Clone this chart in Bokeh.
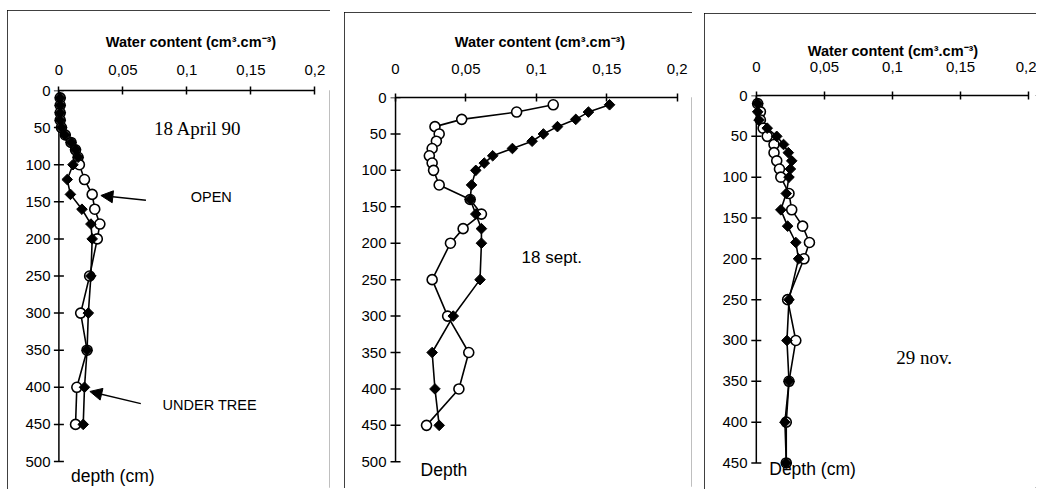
import math
from bokeh.plotting import figure
from bokeh.layouts import row, column
from bokeh.models import (Range1d, FixedTicker, Label, Arrow, NormalHead, Spacer)
from bokeh.embed import file_html
from bokeh.resources import INLINE

# ---------------- data ----------------
depths = [10, 20, 30, 40, 50, 60, 70, 80, 90, 100, 120, 140, 160, 180, 200, 250, 300, 350, 400, 450]

# 18 April 90
april_filled = [0.001, 0.001, 0.001, 0.001, 0.002, 0.005, 0.0095, 0.013, 0.015, 0.011,
                0.0065, 0.009, 0.018, 0.025, 0.026, 0.025, 0.023, 0.022, 0.020, 0.019]
april_open = [0.001, 0.001, 0.001, 0.001, 0.002, 0.005, 0.0095, 0.013, 0.015, 0.016,
              0.020, 0.026, 0.028, 0.032, 0.030, 0.024, 0.017, 0.022, 0.014, 0.013]

# 18 sept.
sept_filled = [0.152, 0.137, 0.128, 0.115, 0.105, 0.097, 0.083, 0.069, 0.063, 0.057,
               0.054, 0.053, 0.057, 0.061, 0.061, 0.060, 0.041, 0.026, 0.028, 0.031]
sept_open = [0.112, 0.086, 0.047, 0.028, 0.031, 0.029, 0.026, 0.024, 0.026, 0.027,
             0.031, 0.053, 0.061, 0.048, 0.039, 0.026, 0.037, 0.052, 0.045, 0.022]

# 29 nov.
nov_filled = [0.001, 0.001, 0.002, 0.008, 0.015, 0.020, 0.0235, 0.026, 0.025, 0.024,
              0.022, 0.018, 0.023, 0.029, 0.031, 0.024, 0.0225, 0.024, 0.021, 0.022]
nov_open = [0.001, 0.003, 0.003, 0.005, 0.008, 0.013, 0.013, 0.015, 0.017, 0.018,
            0.024, 0.026, 0.034, 0.039, 0.035, 0.023, 0.029, 0.024, 0.022, 0.022]

x_ticks = [0, 0.05, 0.1, 0.15, 0.2]
x_tick_labels = ["0", "0,05", "0,1", "0,15", "0,2"]
y_ticks_500 = [0, 50, 100, 150, 200, 250, 300, 350, 400, 450, 500]
y_ticks_450 = [0, 50, 100, 150, 200, 250, 300, 350, 400, 450]
x_title = "Water content (cm\u00b3.cm\u207b\u00b3)"

SANS = "Liberation Sans"
SERIF = "Liberation Serif"


def make_panel(fig_w, fig_h, left, top, right, bottom, xscale, yscale, yticks,
               filled, opened, labels, arrows=(), tick_standoff=12, label_standoff=12):
    x0 = -0.005
    x1 = x0 + (fig_w - left - right) / xscale
    ybot = (fig_h - top - bottom) / yscale
    p = figure(width=fig_w, height=fig_h, output_backend="svg", toolbar_location=None,
               x_range=Range1d(x0, x1), y_range=Range1d(ybot, 0),
               x_axis_location="above", min_border_left=left, min_border_top=top,
               min_border_right=right, min_border_bottom=bottom)
    p.title = None
    p.styles = {"outline": "1.5px solid black", "outline-offset": "-1.5px"}
    p.outline_line_color = None
    p.background_fill_color = "white"
    p.border_fill_color = "white"
    p.xgrid.visible = False
    p.ygrid.visible = False

    xa = p.xaxis[0]
    xa.ticker = FixedTicker(ticks=x_ticks)
    xa.major_label_overrides = {t: l for t, l in zip(x_ticks, x_tick_labels)}
    xa.bounds = (x_ticks[0], x_ticks[-1])
    xa.minor_tick_line_color = None
    xa.major_tick_in = 4
    xa.major_tick_out = 4
    xa.axis_line_width = 1.5
    xa.major_tick_line_width = 1.5
    xa.major_label_standoff = tick_standoff
    xa.major_label_text_font = SANS
    xa.major_label_text_font_size = "15px"
    xa.major_label_text_color = "black"
    xa.axis_label = x_title
    xa.axis_label_text_font = SANS
    xa.axis_label_text_font_style = "bold"
    xa.axis_label_text_font_size = "14.5px"
    xa.axis_label_text_color = "black"
    xa.axis_label_standoff = label_standoff

    ya = p.yaxis[0]
    ya.ticker = FixedTicker(ticks=yticks)
    ya.axis_line_color = None
    ya.major_tick_line_color = None
    ya.minor_tick_line_color = None
    ya.major_tick_in = 0
    ya.major_tick_out = 0
    ya.major_label_standoff = 2
    ya.major_label_text_font = SANS
    ya.major_label_text_font_size = "15px"
    ya.major_label_text_color = "black"

    # vertical axis line at x = 0 with cross ticks
    p.line(x=[0, 0], y=[yticks[0], yticks[-1]], line_color="black", line_width=1.5)
    p.scatter(x=[0] * len(yticks), y=yticks, marker="dash", size=10,
              line_color="black", line_width=1.5)

    p.line(x=opened, y=depths, line_color="black", line_width=1.6)
    p.line(x=filled, y=depths, line_color="black", line_width=1.6)
    p.scatter(x=opened, y=depths, marker="circle", size=10, fill_color="white",
              line_color="black", line_width=1.6)
    p.scatter(x=filled, y=depths, marker="square", angle=math.pi / 4, size=7.5,
              fill_color="black", line_color="black", line_width=1)

    for (tx, ty, txt, font, fs) in labels:
        p.add_layout(Label(x=tx, y=ty, text=txt, text_font=font, text_font_size=fs,
                           text_baseline="middle", text_align="left", text_color="black"))
    for (xs, ys, xe, ye) in arrows:
        p.add_layout(Arrow(end=NormalHead(size=12, fill_color="black", line_color="black"),
                           x_start=xs, y_start=ys, x_end=xe, y_end=ye,
                           line_color="black", line_width=1.5))
    return p


p1 = make_panel(323, 479, 45, 80, 1, 2, 1280, 0.742, y_ticks_500,
                april_filled, april_open,
                [(0.0742, 51, "18 April 90", SERIF, "19px"),
                 (0.103, 144, "OPEN", SANS, "14.5px"),
                 (0.081, 424, "UNDER TREE", SANS, "14.5px"),
                 (0.0094, 519, "depth (cm)", SANS, "17.5px")],
                arrows=[(0.068, 148, 0.0328, 141.5), (0.064, 422, 0.0242, 405.6)],
                tick_standoff=12, label_standoff=12)

p2 = make_panel(348, 476, 44, 85, 1, 2, 1408, 0.7286, y_ticks_500,
                sept_filled, sept_open,
                [(0.0895, 220, "18 sept.", SANS, "17px"),
                 (0.0178, 511, "Depth", SANS, "17.5px")],
                tick_standoff=20, label_standoff=11)

p3 = make_panel(332, 476, 45, 82, 0, 2, 1362, 0.8166, y_ticks_450,
                nov_filled, nov_open,
                [(0.1028, 321, "29 nov.", SERIF, "19px"),
                 (0.0095, 457, "Depth (cm)", SANS, "17.5px")],
                tick_standoff=20, label_standoff=0)

layout = row(Spacer(width=7),
             column(Spacer(height=10), p1),
             Spacer(width=14),
             column(Spacer(height=12), p2),
             Spacer(width=12),
             column(Spacer(height=13), p3))

open("out.html", "w").write(file_html(layout, INLINE))
